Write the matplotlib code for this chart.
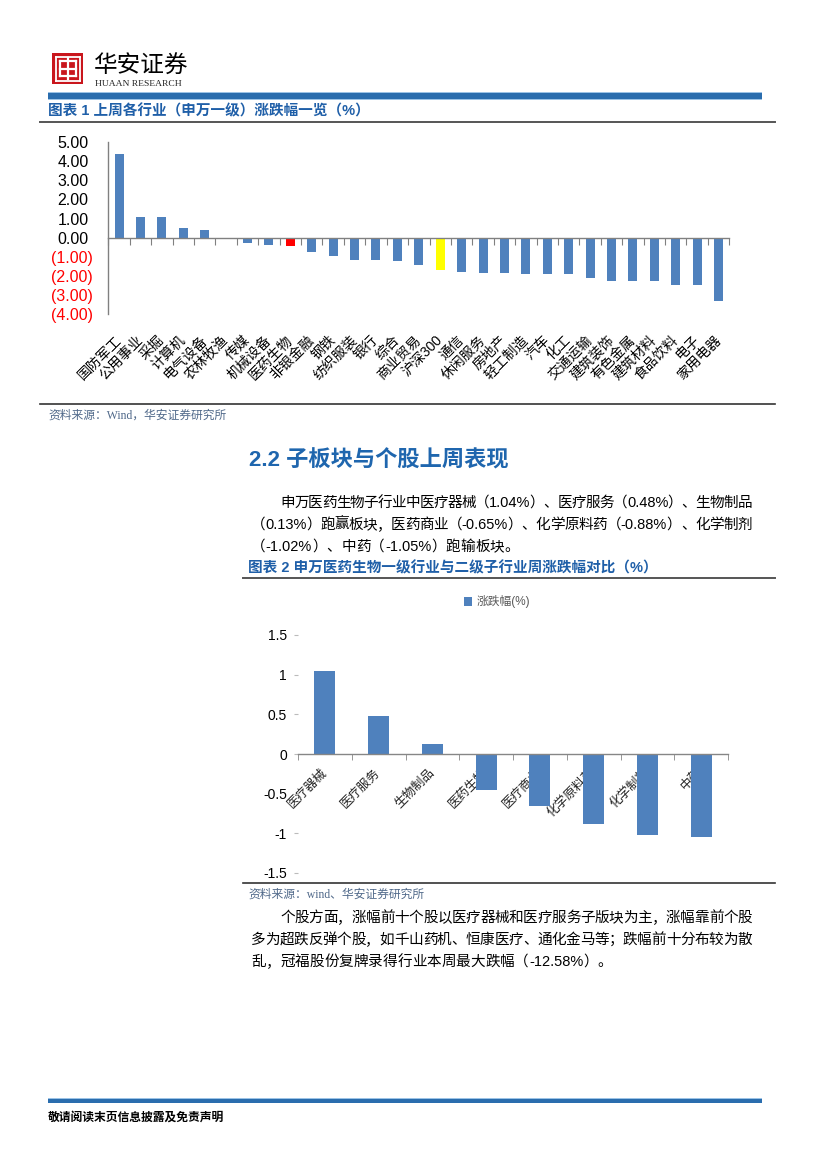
import matplotlib
matplotlib.use("Agg")
import matplotlib.pyplot as plt
import numpy as np
from matplotlib.patches import Rectangle
from matplotlib.lines import Line2D
from matplotlib.transforms import ScaledTranslation
from matplotlib.ticker import FixedLocator, FuncFormatter

plt.rcParams['font.family'] = ['Liberation Sans', 'Noto Sans CJK SC', 'DejaVu Sans']
plt.rcParams['axes.unicode_minus'] = False

# ---------------- data ----------------
industries = ["国防军工", "公用事业", "采掘", "计算机", "电气设备", "农林牧渔", "传媒", "机械设备",
              "医药生物", "非银金融", "钢铁", "纺织服装", "银行", "综合", "商业贸易", "沪深300",
              "通信", "休闲服务", "房地产", "轻工制造", "汽车", "化工", "交通运输", "建筑装饰",
              "有色金属", "建筑材料", "食品饮料", "电子", "家用电器"]
industry_chg = [4.35, 1.10, 1.10, 0.52, 0.42, -0.07, -0.30, -0.40,
                -0.45, -0.72, -0.98, -1.14, -1.14, -1.24, -1.45, -1.71,
                -1.77, -1.82, -1.82, -1.92, -1.92, -1.92, -2.13, -2.24,
                -2.24, -2.24, -2.45, -2.45, -3.29]
highlight_red = "医药生物"
highlight_yellow = "沪深300"
y1_ticks = [5, 4, 3, 2, 1, 0, -1, -2, -3, -4]

sub_industries = ["医疗器械", "医疗服务", "生物制品", "医药生物", "医疗商业", "化学原料药", "化学制剂", "中药"]
sub_chg = [1.04, 0.48, 0.13, -0.45, -0.65, -0.88, -1.02, -1.05]
y2_ticks = [1.5, 1, 0.5, 0, -0.5, -1, -1.5]

# ---------------- page ----------------
W, H = 827, 1169
fig = plt.figure(figsize=(W / 100, H / 100), dpi=100)
fig.patch.set_facecolor('white')

def fx(x):
    return x / W

def fy(y):
    return 1 - y / H

def hline(x0, x1, y, color, lw):
    fig.add_artist(Line2D([fx(x0), fx(x1)], [fy(y), fy(y)], color=color, lw=lw,
                          transform=fig.transFigure))

def rect(x0, y0, x1, y1, color, **kw):
    fig.add_artist(Rectangle((fx(x0), fy(y1)), fx(x1) - fx(x0), fy(y0) - fy(y1),
                             transform=fig.transFigure, facecolor=color, edgecolor='none', **kw))

CJK = ['Liberation Sans', 'Noto Sans CJK SC', 'DejaVu Sans']
BLUE_T = '#1F5FA8'
SRC_C = '#50698A'

# logo
rect(52, 53, 83, 84, '#C9161D')
lx0, ly0, lx1, ly1 = 55.5, 56.5, 79.5, 80.5
for (a, b, c, d) in [(lx0, ly0, lx1, ly0), (lx0, ly1, lx1, ly1), (lx0, ly0, lx0, ly1), (lx1, ly0, lx1, ly1)]:
    fig.add_artist(Line2D([fx(a), fx(c)], [fy(b), fy(d)], color='white', lw=1.3, transform=fig.transFigure))
for (a, b, c, d) in [(59.5, 61, 75.5, 61), (59.5, 76, 75.5, 76), (59.5, 61, 59.5, 76), (75.5, 61, 75.5, 76),
                     (59.5, 68.5, 75.5, 68.5), (67.5, 58, 67.5, 79)]:
    fig.add_artist(Line2D([fx(a), fx(c)], [fy(b), fy(d)], color='white', lw=1.6, transform=fig.transFigure))
fig.text(fx(94), fy(67), "华安证券", fontsize=17, family=CJK, color='black', va='center', ha='left')
fig.text(fx(95), fy(84.5), "HUAAN RESEARCH", fontsize=6.8, family=['Liberation Serif'], color='#222222',
         va='center', ha='left')

# top blue bar
rect(48, 93, 762, 99, '#2A6DAE')
rect(48, 92, 762, 93, '#9CC3E6')
rect(48, 99, 762, 100, '#9CC3E6')

# chart 1 frame
fig.text(fx(48), fy(111), "图表 1 上周各行业（申万一级）涨跌幅一览（%）", fontsize=10.5, family=CJK,
         weight='bold', color=BLUE_T, va='center', ha='left')
hline(40, 775, 122, '#555555', 1.4)
hline(40, 775, 404, '#333333', 1.2)
fig.text(fx(48), fy(416), "资料来源：Wind，华安证券研究所", fontsize=8.5, family=['Liberation Serif', 'Noto Sans CJK SC'],
         color=SRC_C, va='center', ha='left')

# ---------------- chart 1 ----------------
ax1 = fig.add_axes([fx(108.3), fy(314.3), fx(729.3) - fx(108.3), fy(142) - fy(314.3)])
x1 = np.arange(len(industries))
colors1 = ['#FF0000' if n == highlight_red else ('#FFFF00' if n == highlight_yellow else '#4F81BD')
           for n in industries]
ax1.bar(x1, industry_chg, width=0.42, color=colors1, zorder=2)
ax1.set_xlim(-0.5, len(industries) - 0.5)
ax1.set_ylim(-4, 5)
for s in ['top', 'right']:
    ax1.spines[s].set_visible(False)
ax1.spines['left'].set_color('#808080')
ax1.spines['left'].set_linewidth(1.0)
ax1.spines['bottom'].set_position(('data', 0))
ax1.spines['bottom'].set_color('#808080')
ax1.spines['bottom'].set_linewidth(1.0)
ax1.xaxis.set_major_locator(FixedLocator(np.arange(len(industries) + 1) - 0.5))
ax1.tick_params(axis='x', which='major', length=5, direction='out', color='#808080', labelbottom=False)
ax1.set_yticks(y1_ticks)
ax1.set_yticklabels([f"{v:.2f}" if v >= 0 else f"({abs(v):.2f})" for v in y1_ticks])
ax1.tick_params(axis='y', length=0, pad=11, labelsize=11.5)
for v, lbl in zip(y1_ticks, ax1.get_yticklabels()):
    if v < 0:
        lbl.set_color('#FF0000')
    else:
        lbl.set_color('black')
        lbl.set_transform(lbl.get_transform() + ScaledTranslation(-4.5 / 100, 0, fig.dpi_scale_trans))

sec1 = ax1.secondary_xaxis(0.0)
sec1.set_xticks(x1)
sec1.set_xticklabels(industries, rotation=45, ha='right', va='center', rotation_mode='anchor',
                     fontsize=10, family=CJK, color='black')
sec1.tick_params(length=0, pad=17)
sec1.spines['bottom'].set_visible(False)

# ---------------- section text ----------------
fig.text(fx(249), fy(461), "2.2 子板块与个股上周表现", fontsize=16, family=CJK, weight='bold',
         color='#1F66AE', va='center', ha='left')

renderer = fig.canvas.get_renderer()

def is_wide(ch):
    return ord(ch) > 0x2E80

def tokenize(s):
    toks = []
    buf = ''
    for ch in s:
        if is_wide(ch):
            if buf:
                toks.append(buf)
                buf = ''
            toks.append(ch)
        else:
            buf += ch
    if buf:
        toks.append(buf)
    return toks

def draw_line(s, x0, x1, y, fontsize=10.5, justify=True, color='black'):
    toks = tokenize(s)
    arts = []
    widths = []
    for t in toks:
        a = fig.text(0, 0, t, fontsize=fontsize, family=CJK, color=color, va='center', ha='left')
        w = a.get_window_extent(renderer).width
        arts.append(a)
        widths.append(w)
    total = sum(widths)
    gap = (x1 - x0 - total) / (len(toks) - 1) if (justify and len(toks) > 1) else 0.0
    x = x0
    for a, w in zip(arts, widths):
        a.set_position((fx(x), fy(y)))
        x += w + gap

LM, RM = 251, 752
IND = 2 * 10.5 * 100 / 72
para1 = ["申万医药生物子行业中医疗器械（1.04%）、医疗服务（0.48%）、生物制品",
         "（0.13%）跑赢板块，医药商业（-0.65%）、化学原料药（-0.88%）、化学制剂",
         "（-1.02%）、中药（-1.05%）跑输板块。"]
draw_line(para1[0], LM + IND, RM, 503)
draw_line(para1[1], LM, RM, 525)
draw_line(para1[2], LM, RM, 547, justify=False)

fig.text(fx(248), fy(568), "图表 2 申万医药生物一级行业与二级子行业周涨跌幅对比（%）", fontsize=10.5, family=CJK,
         weight='bold', color=BLUE_T, va='center', ha='left')
hline(243, 775, 577.5, '#555555', 1.4)
hline(243, 775, 883, '#333333', 1.2)
fig.text(fx(248), fy(895), "资料来源：wind、华安证券研究所", fontsize=8.5, family=['Liberation Serif', 'Noto Sans CJK SC'],
         color=SRC_C, va='center', ha='left')

# ---------------- chart 2 ----------------
ax2 = fig.add_axes([fx(298), fy(873), fx(728) - fx(298), fy(635) - fy(873)])
x2 = np.arange(len(sub_industries))
bars2 = ax2.bar(x2, sub_chg, width=0.39, color='#4F81BD', zorder=2, label="涨跌幅(%)")
ax2.set_xlim(-0.5, len(sub_industries) - 0.5)
ax2.set_ylim(-1.5, 1.5)
for s in ['top', 'right', 'left']:
    ax2.spines[s].set_visible(False)
ax2.spines['bottom'].set_position(('data', 0))
ax2.spines['bottom'].set_color('#868686')
ax2.spines['bottom'].set_linewidth(1.0)
ax2.set_xticks(x2)
ax2.set_xticklabels(sub_industries, rotation=45, ha='right', va='center', rotation_mode='anchor',
                    fontsize=9, family=CJK, color='#222222')
ax2.set_xticks(np.arange(len(sub_industries) + 1) - 0.5, minor=True)
ax2.tick_params(axis='x', which='major', length=0, pad=12)
ax2.tick_params(axis='x', which='minor', length=4, direction='out', color='#868686')
ax2.set_yticks(y2_ticks)
ax2.yaxis.set_major_formatter(FuncFormatter(lambda v, p: f"{v:g}"))
ax2.tick_params(axis='y', length=3, color='#BBBBBB', pad=5, labelsize=10, labelcolor='black')
leg = ax2.legend(loc='center', bbox_to_anchor=((497 - 298) / 430, (873 - 602) / 238), frameon=False,
                 fontsize=8.5, handlelength=0.7, handleheight=0.7, handletextpad=0.4,
                 prop={'family': CJK, 'size': 8.5})
for t in leg.get_texts():
    t.set_color('#595959')

para2 = ["个股方面，涨幅前十个股以医疗器械和医疗服务子版块为主，涨幅靠前个股",
         "多为超跌反弹个股，如千山药机、恒康医疗、通化金马等；跌幅前十分布较为散",
         "乱，冠福股份复牌录得行业本周最大跌幅（-12.58%）。"]
draw_line(para2[0], LM + IND, RM, 918)
draw_line(para2[1], LM, RM, 940)
draw_line(para2[2], LM, RM, 962, justify=False)

# footer
rect(48, 1099, 762, 1103, '#2A6DAE')
rect(48, 1098, 762, 1099, '#9CC3E6')
fig.text(fx(48), fy(1118), "敬请阅读末页信息披露及免责声明", fontsize=8.5, family=CJK, weight='bold',
         color='black', va='center', ha='left')

fig.savefig("out.png", dpi=100, facecolor='white')
